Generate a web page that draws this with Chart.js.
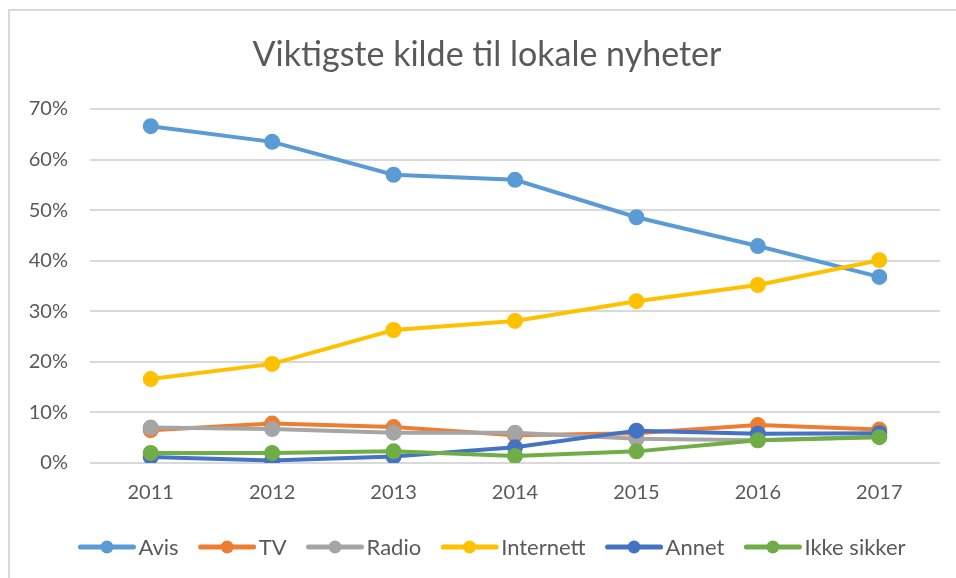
<!DOCTYPE html>
<html>
<head>
<meta charset="utf-8">
<script src="https://cdn.jsdelivr.net/npm/chart.js@4"></script>
<style>
  html, body { margin: 0; padding: 0; background: #fff; }
  #wrap { position: relative; width: 956px; height: 578px; }
</style>
</head>
<body>
<div id="wrap"><canvas id="chart" width="956" height="578"></canvas></div>
<script>
// data (shares, 0..1)
const YEARS = ['2011', '2012', '2013', '2014', '2015', '2016', '2017'];
const AVIS = [0.666, 0.635, 0.570, 0.560, 0.486, 0.429, 0.368];
const TV = [0.065, 0.078, 0.071, 0.055, 0.059, 0.075, 0.066];
const RADIO = [0.070, 0.067, 0.060, 0.060, 0.048, 0.045, 0.052];
const INTERNETT = [0.166, 0.196, 0.263, 0.281, 0.320, 0.352, 0.401];
const ANNET = [0.012, 0.005, 0.013, 0.031, 0.064, 0.058, 0.059];
const IKKE_SIKKER = [0.020, 0.020, 0.023, 0.014, 0.023, 0.045, 0.051];
const Y_TICKS = ['0%', '10%', '20%', '30%', '40%', '50%', '60%', '70%'];

const SERIES = [
  { label: 'Avis', data: AVIS, color: '#5B9BD5' },
  { label: 'TV', data: TV, color: '#ED7D31' },
  { label: 'Radio', data: RADIO, color: '#A5A5A5' },
  { label: 'Internett', data: INTERNETT, color: '#FFC000' },
  { label: 'Annet', data: ANNET, color: '#4472C4' },
  { label: 'Ikke sikker', data: IKKE_SIKKER, color: '#70AD47' },
];

const TXT = '#595959';
const GRID = '#d9d9d9';
const FONT = 'Lato, "Open Sans", sans-serif';

const frameAndTitle = {
  id: 'frameAndTitle',
  beforeDraw(chart) {
    const ctx = chart.ctx;
    ctx.save();
    ctx.strokeStyle = GRID;
    ctx.lineWidth = 2;
    ctx.beginPath();
    ctx.moveTo(9, 578); ctx.lineTo(9, 10); ctx.lineTo(956, 10);
    ctx.stroke();
    ctx.fillStyle = TXT;
    ctx.font = '34px ' + FONT;
    ctx.textAlign = 'center';
    ctx.textBaseline = 'middle';
    ctx.fillText('Viktigste kilde til lokale nyheter', 487, 55);
    ctx.restore();
  }
};

// Excel-style legend: line with a dot, label right after, row centred
const excelLegend = {
  id: 'excelLegend',
  afterDraw(chart) {
    const ctx = chart.ctx;
    const sw = 57, gapTxt = 3, gapItem = 20, cx = 492, cy = 547;
    ctx.save();
    ctx.font = '22px ' + FONT;
    ctx.textBaseline = 'middle';
    ctx.textAlign = 'left';
    const dsets = chart.data.datasets;
    const widths = dsets.map(ds => sw + gapTxt + ctx.measureText(ds.label).width);
    const total = widths.reduce((a, b) => a + b, 0) + gapItem * (dsets.length - 1);
    let x = cx - total / 2;
    dsets.forEach((ds, i) => {
      ctx.strokeStyle = ds.borderColor;
      ctx.fillStyle = ds.borderColor;
      ctx.lineWidth = 5;
      ctx.lineCap = 'round';
      ctx.beginPath(); ctx.moveTo(x + 2, cy); ctx.lineTo(x + sw - 2, cy); ctx.stroke();
      ctx.beginPath(); ctx.arc(x + sw / 2, cy, 6.5, 0, Math.PI * 2); ctx.fill();
      ctx.fillStyle = TXT;
      ctx.fillText(ds.label, x + sw + gapTxt, cy + 1);
      x += widths[i] + gapItem;
    });
    ctx.restore();
  }
};

new Chart(document.getElementById('chart'), {
  type: 'line',
  data: {
    labels: YEARS,
    datasets: SERIES.map((s, i) => ({
      label: s.label,
      data: s.data,
      borderColor: s.color,
      backgroundColor: s.color,
      pointBackgroundColor: s.color,
      pointBorderColor: s.color,
      borderWidth: 4,
      pointRadius: 6,
      pointHoverRadius: 6,
      fill: false,
      tension: 0,
      order: SERIES.length - i
    }))
  },
  plugins: [frameAndTitle, excelLegend],
  options: {
    responsive: false,
    animation: false,
    layout: { padding: { top: 109, right: 16, left: 0, bottom: 55 } },
    scales: {
      x: {
        offset: true,
        grid: { display: false, drawTicks: false },
        border: { display: false },
        ticks: { color: TXT, font: { family: FONT, size: 20 }, padding: 18 }
      },
      y: {
        min: 0,
        max: 0.7,
        afterFit(scale) { scale.width = 90; },
        grid: { color: GRID, lineWidth: 2, drawTicks: false },
        border: { display: false },
        ticks: {
          stepSize: 0.1,
          padding: 22,
          color: TXT,
          font: { family: FONT, size: 20 },
          callback: (v) => Y_TICKS[Math.round(v * 10)]
        }
      }
    },
    plugins: {
      title: { display: false },
      tooltip: { enabled: false },
      legend: { display: false }
    }
  }
});
</script>
</body>
</html>
